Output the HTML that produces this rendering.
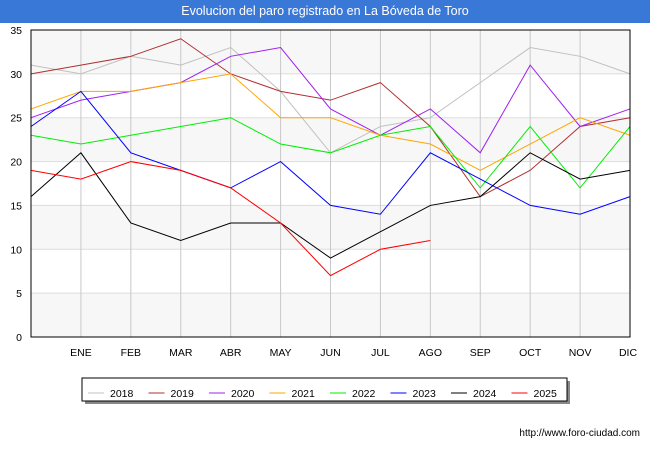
<!DOCTYPE html>
<html><head><meta charset="utf-8"><style>
body{margin:0;width:650px;height:450px;background:#fff;font-family:"Liberation Sans",sans-serif;overflow:hidden;position:relative}
#title{position:absolute;left:0;top:0;width:650px;height:23px;background:#3a78d8;color:#fff;font-size:12.5px;text-align:center;line-height:23px}
#url{position:absolute;right:10px;top:428px;font-size:10px;color:#000}
</style></head><body>
<div id="title">Evolucion del paro registrado en La Bóveda de Toro</div>
<svg id="chart" width="650" height="450" style="position:absolute;left:0;top:0"></svg>
<div id="url">http://www.foro-ciudad.com</div>
<script>
const categories=["","ENE","FEB","MAR","ABR","MAY","JUN","JUL","AGO","SEP","OCT","NOV","DIC"];
const yTicks=[0,5,10,15,20,25,30,35];
const seriesNames=["2018","2019","2020","2021","2022","2023","2024","2025"];
const seriesColors=["#c0c0c0","#b03030","#a020f0","#ffa500","#00ee00","#0000ff","#000000","#ff0000"];
const s2018=[31,30,32,31,33,28,21,24,25,29,33,32,30];
const s2019=[30,31,32,34,30,28,27,29,24,16,19,24,25];
const s2020=[25,27,28,29,32,33,26,23,26,21,31,24,26];
const s2021=[26,28,28,29,30,25,25,23,22,19,22,25,23];
const s2022=[23,22,23,24,25,22,21,23,24,17,24,17,24];
const s2023=[24,28,21,19,17,20,15,14,21,18,15,14,16];
const s2024=[16,21,13,11,13,13,9,12,15,16,21,18,19];
const s2025=[19,18,20,19,17,13,7,10,11];
const allSeries=[s2018,s2019,s2020,s2021,s2022,s2023,s2024,s2025];
const NS="http://www.w3.org/2000/svg",svg=document.getElementById('chart');
const L=31,R=630,T=30,B=337,ymax=35;
const x=i=>L+i*(R-L)/(categories.length-1);
const y=v=>B-v*(B-T)/ymax;
function mk(t,a){const e=document.createElementNS(NS,t);for(const k in a)e.setAttribute(k,a[k]);svg.appendChild(e);return e;}
for(let k=0;k<yTicks.length-1;k++){if(k%2==0){const r=mk('rect',{x:L,y:y(yTicks[k+1]),width:R-L,height:y(yTicks[k])-y(yTicks[k+1]),fill:'#f7f7f7'});

}}
yTicks.forEach(v=>{const g=mk('line',{x1:L,x2:R,y1:y(v),y2:y(v),stroke:'#ddd'});


const t=mk('text',{x:L-9,y:y(v)+4,'text-anchor':'end','font-size':10.5,fill:'#000'});t.textContent=v;

});
categories.forEach((c,i)=>{if(i>0){const g=mk('line',{x1:x(i),x2:x(i),y1:T,y2:B,stroke:'#c8c8c8'});

}
const t=mk('text',{x:x(i)-(i==12?2:0),y:B+19,'text-anchor':'middle','font-size':10.5,fill:'#000'});t.textContent=c;

});
allSeries.forEach((s,k)=>{const p=mk('polyline',{points:s.map((v,i)=>x(i)+','+y(v)).join(' '),fill:'none',stroke:seriesColors[k],'stroke-width':1});

});
const fr=mk('rect',{x:L,y:T,width:R-L,height:B-T,fill:'none',stroke:'#000'});


const sh=mk('rect',{x:85,y:381,width:485,height:23,fill:'#888'});


const lb=mk('rect',{x:82,y:378,width:485,height:23,fill:'#fff',stroke:'#000'});


seriesNames.forEach((n,k)=>{const lx=88+k*60.5;
const l=mk('line',{x1:lx,x2:lx+16,y1:393,y2:393,stroke:seriesColors[k]});


const t=mk('text',{x:lx+22,y:397,'font-size':10.5,fill:'#000'});t.textContent=n;

});
</script>
</body></html>
